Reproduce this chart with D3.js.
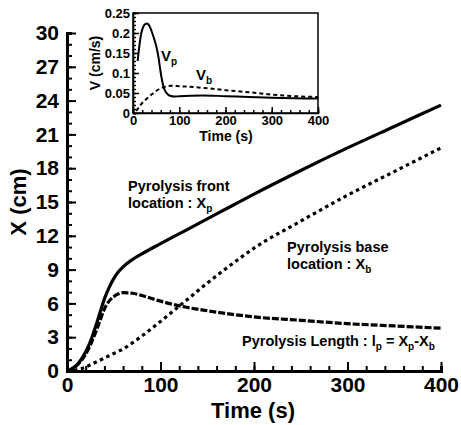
<!DOCTYPE html>
<html>
<head>
  <meta charset="UTF-8">
  <title>Pyrolysis front and base location</title>
  <style>
    body { margin: 0; padding: 0; background: #fff; }
    svg { display: block; font-family: "Liberation Sans", Arial, sans-serif; font-weight: bold; }
    .axis path, .axis line { stroke: #000; }
    .axis text { font-family: "Liberation Sans", Arial, sans-serif; font-weight: bold; fill: #000; }
  </style>
</head>
<body>
  <svg></svg>
  <script src="https://d3js.org/d3.v7.min.js"></script>
  <script>
    // main plot: positions in cm vs time in s
    let timeMain = [0, 5, 10, 15, 20, 25, 30, 35, 40, 45, 50, 55, 60, 70, 80, 100, 125, 150, 175, 200, 250, 300, 350, 400];
    let frontX   = [0, 0.2, 0.5, 1.0, 1.7, 2.6, 3.8, 5.1, 6.4, 7.4, 8.2, 8.8, 9.25, 9.9, 10.4, 11.3, 12.4, 13.5, 14.6, 15.7, 17.8, 19.8, 21.7, 23.6];
    let baseX    = [0, 0.05, 0.1, 0.2, 0.35, 0.55, 0.75, 0.95, 1.15, 1.35, 1.55, 1.75, 1.95, 2.5, 3.1, 4.4, 6.1, 7.8, 9.4, 10.9, 13.3, 15.6, 17.7, 19.8];
    let lengthX  = [0, 0.15, 0.45, 0.9, 1.5, 2.3, 3.3, 4.4, 5.5, 6.2, 6.6, 6.85, 6.95, 6.9, 6.7, 6.2, 5.7, 5.35, 5.05, 4.8, 4.5, 4.2, 4.0, 3.8];

    // inset: velocities in cm/s
    let timeVp = [10, 14, 18, 22, 26, 30, 35, 40, 45, 50, 55, 60, 65, 70, 75, 80, 90, 100, 150, 200, 250, 300, 350, 400];
    let vp     = [0.13, 0.17, 0.2, 0.215, 0.222, 0.224, 0.219, 0.205, 0.188, 0.168, 0.14, 0.1, 0.07, 0.054, 0.047, 0.043, 0.041, 0.042, 0.044, 0.042, 0.04, 0.038, 0.037, 0.036];
    let timeVb = [7, 15, 20, 30, 40, 50, 60, 70, 80, 100, 150, 200, 250, 300, 350, 400];
    let vb     = [0.005, 0.018, 0.025, 0.036, 0.046, 0.055, 0.062, 0.066, 0.068, 0.067, 0.063, 0.057, 0.052, 0.046, 0.042, 0.04];

    let mainXTicks = [0, 100, 200, 300, 400];
    let mainYTicks = [0, 3, 6, 9, 12, 15, 18, 21, 24, 27, 30];
    let insetXTicks = [0, 100, 200, 300, 400];
    let insetYTicks = [0, 0.05, 0.1, 0.15, 0.2, 0.25];

    let width = 461, height = 425;
    let svg = d3.select("svg").attr("width", width).attr("height", height);
    svg.append("rect").attr("width", width).attr("height", height).attr("fill", "#fff");

    let x = d3.scaleLinear().domain([0, 400]).range([67, 441]);
    let y = d3.scaleLinear().domain([0, 30]).range([371, 33]);

    // main axes, ticks pointing inward
    let gx = svg.append("g").attr("class", "axis").attr("transform", "translate(0,371)");
    gx.call(d3.axisBottom(x).tickValues(d3.range(0, 401, 20)).tickSize(-5).tickFormat(""))
      .call(g => g.selectAll("line").attr("stroke-width", 2));
    gx.append("g").call(d3.axisBottom(x).tickValues(mainXTicks).tickSize(-9).tickPadding(6).tickFormat(d3.format("d")))
      .call(g => g.select(".domain").remove())
      .call(g => g.selectAll("line").attr("stroke-width", 2))
      .call(g => g.selectAll("text").attr("font-size", 21).attr("fill", "#000").attr("font-weight", "bold"));
    gx.select(".domain").attr("stroke-width", 3);

    let gy = svg.append("g").attr("class", "axis").attr("transform", "translate(67,0)");
    gy.call(d3.axisLeft(y).tickValues(d3.range(0, 31, 1)).tickSize(-5).tickFormat(""))
      .call(g => g.selectAll("line").attr("stroke-width", 2));
    gy.append("g").call(d3.axisLeft(y).tickValues(mainYTicks).tickSize(-9).tickPadding(8).tickFormat(d3.format("d")))
      .call(g => g.select(".domain").remove())
      .call(g => g.selectAll("line").attr("stroke-width", 2))
      .call(g => g.selectAll("text").attr("font-size", 21).attr("fill", "#000").attr("font-weight", "bold"));
    gy.select(".domain").attr("stroke-width", 3);

    svg.append("text").attr("x", 253).attr("y", 418).attr("text-anchor", "middle")
      .attr("font-size", 22).text("Time (s)");
    svg.append("text").attr("transform", "translate(26,202) rotate(-90)").attr("text-anchor", "middle")
      .attr("font-size", 22).text("X (cm)");

    let line = d3.line().curve(d3.curveMonotoneX);
    let pts = (ts, vs, sx, sy) => ts.map((t, i) => [sx(t), sy(vs[i])]);

    svg.append("path").attr("d", line(pts(timeMain, frontX, x, y)))
      .attr("fill", "none").attr("stroke", "#000").attr("stroke-width", 3.2);
    svg.append("path").attr("d", line(pts(timeMain, baseX, x, y)))
      .attr("fill", "none").attr("stroke", "#000").attr("stroke-width", 3.2).attr("stroke-dasharray", "3.5,3.5");
    svg.append("path").attr("d", line(pts(timeMain, lengthX, x, y)))
      .attr("fill", "none").attr("stroke", "#000").attr("stroke-width", 3.2).attr("stroke-dasharray", "7,2");

    // annotations
    let ann = svg.append("g").attr("font-size", 14.5);
    ann.append("text").attr("x", 128).attr("y", 191).text("Pyrolysis front");
    let t2 = ann.append("text").attr("x", 128).attr("y", 208).text("location : X");
    t2.append("tspan").attr("font-size", 10).attr("dy", 4).text("p");
    ann.append("text").attr("x", 287).attr("y", 252).text("Pyrolysis base");
    let t3 = ann.append("text").attr("x", 287).attr("y", 269).text("location : X");
    t3.append("tspan").attr("font-size", 10).attr("dy", 4).text("b");
    let t4 = ann.append("text").attr("x", 242).attr("y", 346).text("Pyrolysis Length : l");
    t4.append("tspan").attr("font-size", 10).attr("dy", 4).text("p");
    t4.append("tspan").attr("dy", -4).text(" = X");
    t4.append("tspan").attr("font-size", 10).attr("dy", 4).text("p");
    t4.append("tspan").attr("dy", -4).text("-X");
    t4.append("tspan").attr("font-size", 10).attr("dy", 4).text("b");

    // inset
    let ix = d3.scaleLinear().domain([0, 400]).range([133, 318]);
    let iy = d3.scaleLinear().domain([0, 0.25]).range([113, 13]);
    let inset = svg.append("g");
    inset.append("rect").attr("x", 133).attr("y", 13).attr("width", 185).attr("height", 100)
      .attr("fill", "#fff").attr("stroke", "#000").attr("stroke-width", 1.5);

    let igx = inset.append("g").attr("class", "axis").attr("transform", "translate(0,113)");
    igx.call(d3.axisBottom(ix).tickValues(d3.range(0, 401, 20)).tickSize(-3).tickFormat(""));
    igx.append("g").call(d3.axisBottom(ix).tickValues(insetXTicks).tickSize(-6).tickPadding(3).tickFormat(d3.format("d")))
      .call(g => g.select(".domain").remove())
      .call(g => g.selectAll("text").attr("font-size", 13).attr("fill", "#000").attr("font-weight", "bold"));
    igx.selectAll("line").attr("stroke-width", 1.5);
    igx.select(".domain").attr("stroke-width", 1.5);

    let igy = inset.append("g").attr("class", "axis").attr("transform", "translate(133,0)");
    igy.call(d3.axisLeft(iy).tickValues(d3.range(0, 0.251, 0.01)).tickSize(-3).tickFormat(""));
    igy.append("g").call(d3.axisLeft(iy).tickValues(insetYTicks).tickSize(-6).tickPadding(3).tickFormat(d => d === 0 ? "0" : String(+d.toFixed(2))))
      .call(g => g.select(".domain").remove())
      .call(g => g.selectAll("text").attr("font-size", 13).attr("fill", "#000").attr("font-weight", "bold"));
    igy.selectAll("line").attr("stroke-width", 1.5);
    igy.select(".domain").attr("stroke-width", 1.5);

    inset.append("text").attr("x", 226).attr("y", 141).attr("text-anchor", "middle")
      .attr("font-size", 14).text("Time (s)");
    inset.append("text").attr("transform", "translate(100,63) rotate(-90)").attr("text-anchor", "middle")
      .attr("font-size", 14).text("V (cm/s)");

    inset.append("path").attr("d", line(pts(timeVp, vp, ix, iy)))
      .attr("fill", "none").attr("stroke", "#000").attr("stroke-width", 2);
    inset.append("path").attr("d", line(pts(timeVb, vb, ix, iy)))
      .attr("fill", "none").attr("stroke", "#000").attr("stroke-width", 2).attr("stroke-dasharray", "4,3");

    let lv1 = inset.append("text").attr("x", 161).attr("y", 61).attr("font-size", 15).text("V");
    lv1.append("tspan").attr("font-size", 10).attr("dy", 4).text("p");
    let lv2 = inset.append("text").attr("x", 196).attr("y", 80).attr("font-size", 15).text("V");
    lv2.append("tspan").attr("font-size", 10).attr("dy", 4).text("b");
  </script>
</body>
</html>
